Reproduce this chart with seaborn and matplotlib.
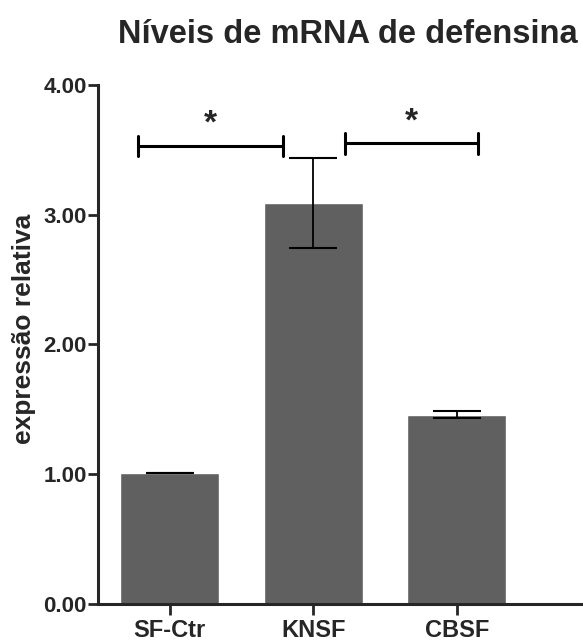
import matplotlib
matplotlib.use('Agg')
import matplotlib.pyplot as plt
import seaborn as sns
import pandas as pd

# data
groups = ['SF-Ctr', 'KNSF', 'CBSF']
expr = [1.01, 3.09, 1.46]
sem = [0.003, 0.35, 0.025]

# significance brackets: (x start, x end, height)
brackets = [(-0.22, 0.79, 3.53), (1.22, 2.15, 3.55)]
yticks = [0.0, 1.0, 2.0, 3.0, 4.0]

sns.set_style('ticks')
plt.rcParams['font.family'] = ['Liberation Sans', 'DejaVu Sans']
plt.rcParams['font.weight'] = 'bold'

df = pd.DataFrame({'grupo': groups, 'expr': expr})

fig = plt.figure(figsize=(5.83, 6.42), dpi=100)
ax = fig.add_axes([0.168, 0.0592, 0.832, 0.8084])

sns.barplot(data=df, x='grupo', y='expr', color='#606060', saturation=1,
            width=0.69, ax=ax)
ax.errorbar(range(len(groups)), expr, yerr=sem, fmt='none', ecolor='black',
            elinewidth=1.3, capsize=17, capthick=1.5)

for x0, x1, h in brackets:
    ax.plot([x0, x1], [h, h], color='black', lw=2.2, solid_capstyle='butt')
    ax.plot([x0, x0], [h - 0.08, h + 0.08], color='black', lw=2.2)
    ax.plot([x1, x1], [h - 0.08, h + 0.08], color='black', lw=2.2)
    ax.text((x0 + x1) / 2, h + 0.1, '*', ha='center', va='baseline',
            fontsize=24, fontweight='bold')

ax.set_xlim(-0.5, 2.88)
ax.set_ylim(0, 4)
ax.set_yticks(yticks)
ax.set_yticklabels([f'{v:.2f}' for v in yticks])
ax.tick_params(axis='y', length=7, width=2, labelsize=16, pad=1)
ax.tick_params(axis='x', length=8, width=2, labelsize=17, pad=3)
for lab in ax.get_xticklabels() + ax.get_yticklabels():
    lab.set_fontweight('bold')

sns.despine(ax=ax)
ax.spines['left'].set_linewidth(2.2)
ax.spines['bottom'].set_linewidth(2.2)

ax.set_xlabel('')
ax.set_ylabel('expressão relativa', fontsize=19, fontweight='bold')
ax.yaxis.set_label_coords(-0.128, 0.53)
ax.set_title('Níveis de mRNA de defensina', fontsize=23.5, fontweight='bold',
             pad=30, x=0.515)

fig.savefig('out.png', dpi=100)
